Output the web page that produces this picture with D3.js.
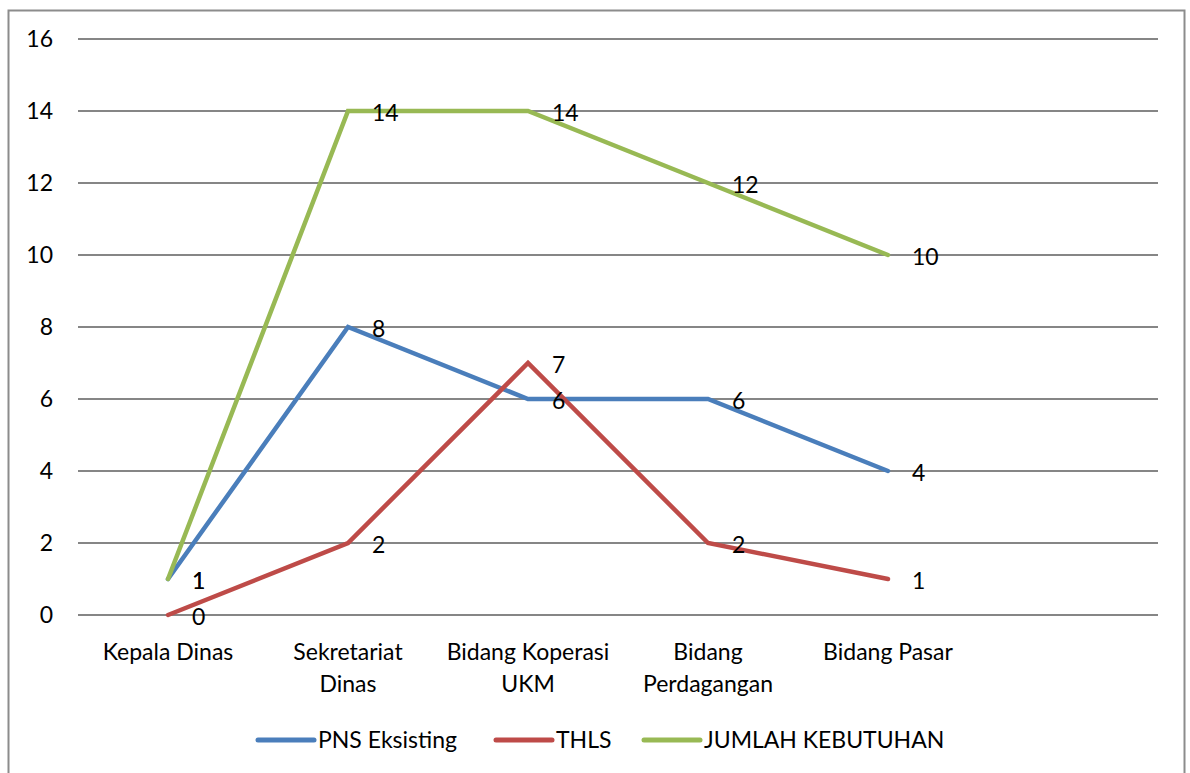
<!DOCTYPE html>
<html>
<head>
<meta charset="utf-8">
<script src="https://d3js.org/d3.v7.min.js"></script>
<style>
  body { margin: 0; background: #fff; }
  svg text { font-family: Lato, "Open Sans", sans-serif; fill: #000; font-size: 23px; }
</style>
</head>
<body>
<script>
// chart data
var categories = ["Kepala Dinas", "Sekretariat\nDinas", "Bidang Koperasi\nUKM", "Bidang\nPerdagangan", "Bidang Pasar", ""];
var pnsEksisting = [1, 8, 6, 6, 4];
var thls = [0, 2, 7, 2, 1];
var jumlahKebutuhan = [1, 14, 14, 12, 10];
var seriesNames = ["PNS Eksisting", "THLS", "JUMLAH KEBUTUHAN"];
var seriesColors = ["#4a7ebb", "#be4b48", "#98b954"];
var yTicks = [0, 2, 4, 6, 8, 10, 12, 14, 16];

var width = 1190, height = 773;
var series = [pnsEksisting, thls, jumlahKebutuhan];

var svg = d3.select("body").append("svg")
  .attr("width", width)
  .attr("height", height);

// outer border
svg.append("rect")
  .attr("x", 8.5).attr("y", 10.5)
  .attr("width", 1176).attr("height", 780)
  .attr("fill", "none")
  .attr("stroke", "#8c8c8c")
  .attr("stroke-width", 2);

var x = d3.scaleBand()
  .domain(d3.range(categories.length))
  .range([78, 1158]);

var y = d3.scaleLinear()
  .domain([0, 16])
  .range([615, 39]);

// gridlines
svg.append("g").selectAll("line")
  .data(yTicks)
  .enter().append("line")
  .attr("x1", 78).attr("x2", 1158)
  .attr("y1", function(d) { return y(d); })
  .attr("y2", function(d) { return y(d); })
  .attr("stroke", "#868686")
  .attr("stroke-width", 2);

// y labels
svg.append("g").selectAll("text")
  .data(yTicks)
  .enter().append("text")
  .attr("x", 53)
  .attr("y", function(d) { return y(d); })
  .attr("dy", "0.35em")
  .attr("text-anchor", "end")
  .text(function(d) { return d; });

// x labels
var xl = svg.append("g").selectAll("text")
  .data(categories)
  .enter().append("text")
  .attr("x", function(d, i) { return x(i) + x.bandwidth() / 2; })
  .attr("y", 660)
  .attr("text-anchor", "middle");
xl.each(function(d) {
  var t = d3.select(this);
  d.split("\n").forEach(function(line, k) {
    t.append("tspan")
      .attr("x", t.attr("x"))
      .attr("dy", k === 0 ? 0 : 32)
      .text(line);
  });
});

var line = d3.line()
  .x(function(d, i) { return x(i) + x.bandwidth() / 2; })
  .y(function(d) { return y(d); });

series.forEach(function(vals, s) {
  svg.append("path")
    .datum(vals)
    .attr("d", line)
    .attr("fill", "none")
    .attr("stroke", seriesColors[s])
    .attr("stroke-width", 4.5)
    .attr("stroke-linecap", "round");
});

// data labels
series.forEach(function(vals, s) {
  svg.append("g").selectAll("text")
    .data(vals)
    .enter().append("text")
    .attr("x", function(d, i) { return x(i) + x.bandwidth() / 2 + 24; })
    .attr("y", function(d) { return y(d) + 2; })
    .attr("dy", "0.35em")
    .text(function(d) { return d; });
});

// legend
var legendX = [258, 496, 644];
var lg = svg.append("g").selectAll("g")
  .data(seriesNames)
  .enter().append("g")
  .attr("transform", function(d, i) { return "translate(" + legendX[i] + ",740)"; });
lg.append("line")
  .attr("x1", 0).attr("x2", 56)
  .attr("stroke", function(d, i) { return seriesColors[i]; })
  .attr("stroke-width", 5)
  .attr("stroke-linecap", "round");
lg.append("text")
  .attr("x", 60)
  .attr("dy", "0.35em")
  .text(function(d) { return d; });
</script>
</body>
</html>
